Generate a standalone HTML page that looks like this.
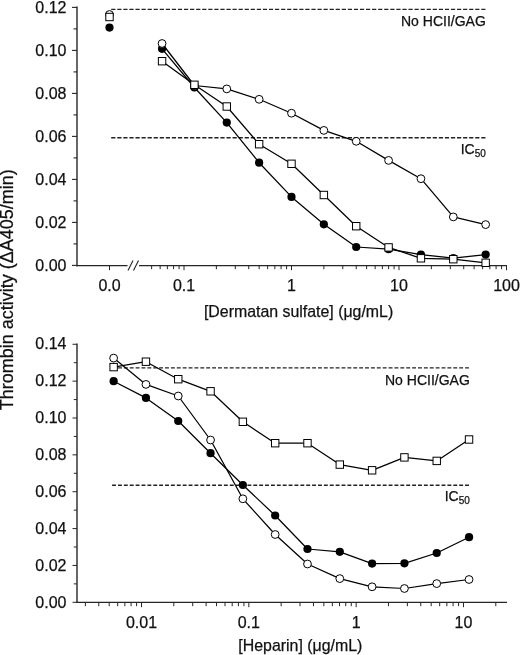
<!DOCTYPE html>
<html><head><meta charset="utf-8"><style>
html,body{margin:0;padding:0;background:#fff;}
svg{display:block;will-change:transform;}
text{font-family:"Liberation Sans",sans-serif;fill:#111;stroke:#111;stroke-width:0.25px;}
</style></head><body>
<svg width="520" height="655" viewBox="0 0 520 655">
<rect width="520" height="655" fill="#fff"/>
<line x1="77" y1="6.6" x2="77" y2="266.2" stroke="#262626" stroke-width="1.4"/>
<line x1="72" y1="265.40" x2="77" y2="265.40" stroke="#262626" stroke-width="1.1"/>
<text x="66.50" y="270.60" font-size="16" text-anchor="end" >0.00</text>
<line x1="73.5" y1="243.90" x2="77" y2="243.90" stroke="#262626" stroke-width="1.1"/>
<line x1="72" y1="222.40" x2="77" y2="222.40" stroke="#262626" stroke-width="1.1"/>
<text x="66.50" y="227.60" font-size="16" text-anchor="end" >0.02</text>
<line x1="73.5" y1="200.90" x2="77" y2="200.90" stroke="#262626" stroke-width="1.1"/>
<line x1="72" y1="179.40" x2="77" y2="179.40" stroke="#262626" stroke-width="1.1"/>
<text x="66.50" y="184.60" font-size="16" text-anchor="end" >0.04</text>
<line x1="73.5" y1="157.90" x2="77" y2="157.90" stroke="#262626" stroke-width="1.1"/>
<line x1="72" y1="136.40" x2="77" y2="136.40" stroke="#262626" stroke-width="1.1"/>
<text x="66.50" y="141.60" font-size="16" text-anchor="end" >0.06</text>
<line x1="73.5" y1="114.90" x2="77" y2="114.90" stroke="#262626" stroke-width="1.1"/>
<line x1="72" y1="93.40" x2="77" y2="93.40" stroke="#262626" stroke-width="1.1"/>
<text x="66.50" y="98.60" font-size="16" text-anchor="end" >0.08</text>
<line x1="73.5" y1="71.90" x2="77" y2="71.90" stroke="#262626" stroke-width="1.1"/>
<line x1="72" y1="50.40" x2="77" y2="50.40" stroke="#262626" stroke-width="1.1"/>
<text x="66.50" y="55.60" font-size="16" text-anchor="end" >0.10</text>
<line x1="73.5" y1="28.90" x2="77" y2="28.90" stroke="#262626" stroke-width="1.1"/>
<line x1="72" y1="7.40" x2="77" y2="7.40" stroke="#262626" stroke-width="1.1"/>
<text x="66.50" y="12.60" font-size="16" text-anchor="end" >0.12</text>
<line x1="76" y1="265.6" x2="127.5" y2="265.6" stroke="#262626" stroke-width="1.4"/>
<line x1="139" y1="265.6" x2="507" y2="265.6" stroke="#262626" stroke-width="1.4"/>
<line x1="128" y1="270.5" x2="133" y2="260.5" stroke="#262626" stroke-width="1.1"/>
<line x1="133.5" y1="270.5" x2="138.5" y2="260.5" stroke="#262626" stroke-width="1.1"/>
<line x1="109.5" y1="265.6" x2="109.5" y2="270.2" stroke="#262626" stroke-width="1"/>
<text x="109.50" y="290.80" font-size="16" text-anchor="middle" >0.0</text>
<line x1="151.64" y1="265.6" x2="151.64" y2="269.2" stroke="#262626" stroke-width="1"/>
<line x1="160.15" y1="265.6" x2="160.15" y2="269.2" stroke="#262626" stroke-width="1"/>
<line x1="167.35" y1="265.6" x2="167.35" y2="269.2" stroke="#262626" stroke-width="1"/>
<line x1="173.58" y1="265.6" x2="173.58" y2="269.2" stroke="#262626" stroke-width="1"/>
<line x1="179.08" y1="265.6" x2="179.08" y2="269.2" stroke="#262626" stroke-width="1"/>
<line x1="184.00" y1="265.6" x2="184.00" y2="270.2" stroke="#262626" stroke-width="1"/>
<line x1="216.36" y1="265.6" x2="216.36" y2="269.2" stroke="#262626" stroke-width="1"/>
<line x1="235.29" y1="265.6" x2="235.29" y2="269.2" stroke="#262626" stroke-width="1"/>
<line x1="248.72" y1="265.6" x2="248.72" y2="269.2" stroke="#262626" stroke-width="1"/>
<line x1="259.14" y1="265.6" x2="259.14" y2="269.2" stroke="#262626" stroke-width="1"/>
<line x1="267.65" y1="265.6" x2="267.65" y2="269.2" stroke="#262626" stroke-width="1"/>
<line x1="274.85" y1="265.6" x2="274.85" y2="269.2" stroke="#262626" stroke-width="1"/>
<line x1="281.08" y1="265.6" x2="281.08" y2="269.2" stroke="#262626" stroke-width="1"/>
<line x1="286.58" y1="265.6" x2="286.58" y2="269.2" stroke="#262626" stroke-width="1"/>
<line x1="291.50" y1="265.6" x2="291.50" y2="270.2" stroke="#262626" stroke-width="1"/>
<line x1="323.86" y1="265.6" x2="323.86" y2="269.2" stroke="#262626" stroke-width="1"/>
<line x1="342.79" y1="265.6" x2="342.79" y2="269.2" stroke="#262626" stroke-width="1"/>
<line x1="356.22" y1="265.6" x2="356.22" y2="269.2" stroke="#262626" stroke-width="1"/>
<line x1="366.64" y1="265.6" x2="366.64" y2="269.2" stroke="#262626" stroke-width="1"/>
<line x1="375.15" y1="265.6" x2="375.15" y2="269.2" stroke="#262626" stroke-width="1"/>
<line x1="382.35" y1="265.6" x2="382.35" y2="269.2" stroke="#262626" stroke-width="1"/>
<line x1="388.58" y1="265.6" x2="388.58" y2="269.2" stroke="#262626" stroke-width="1"/>
<line x1="394.08" y1="265.6" x2="394.08" y2="269.2" stroke="#262626" stroke-width="1"/>
<line x1="399.00" y1="265.6" x2="399.00" y2="270.2" stroke="#262626" stroke-width="1"/>
<line x1="431.36" y1="265.6" x2="431.36" y2="269.2" stroke="#262626" stroke-width="1"/>
<line x1="450.29" y1="265.6" x2="450.29" y2="269.2" stroke="#262626" stroke-width="1"/>
<line x1="463.72" y1="265.6" x2="463.72" y2="269.2" stroke="#262626" stroke-width="1"/>
<line x1="474.14" y1="265.6" x2="474.14" y2="269.2" stroke="#262626" stroke-width="1"/>
<line x1="482.65" y1="265.6" x2="482.65" y2="269.2" stroke="#262626" stroke-width="1"/>
<line x1="489.85" y1="265.6" x2="489.85" y2="269.2" stroke="#262626" stroke-width="1"/>
<line x1="496.08" y1="265.6" x2="496.08" y2="269.2" stroke="#262626" stroke-width="1"/>
<line x1="501.58" y1="265.6" x2="501.58" y2="269.2" stroke="#262626" stroke-width="1"/>
<line x1="506.50" y1="265.6" x2="506.50" y2="270.2" stroke="#262626" stroke-width="1"/>
<text x="184.00" y="290.80" font-size="16" text-anchor="middle" >0.1</text>
<text x="291.50" y="290.80" font-size="16" text-anchor="middle" >1</text>
<text x="399.00" y="290.80" font-size="16" text-anchor="middle" >10</text>
<text x="506.50" y="290.80" font-size="16" text-anchor="middle" >100</text>
<text x="298.60" y="316.80" font-size="15.9" text-anchor="middle" >[Dermatan sulfate] (&#956;g/mL)</text>
<line x1="111.2" y1="9.4" x2="485.4" y2="9.4" stroke="#222" stroke-width="1.4" stroke-dasharray="4.2,1.867"/>
<line x1="111.2" y1="137.8" x2="485.4" y2="137.8" stroke="#222" stroke-width="1.4" stroke-dasharray="4.2,1.867"/>
<text x="485.80" y="25.60" font-size="14" text-anchor="end" >No HCII/GAG</text>
<text x="485.8" y="154" font-size="14" text-anchor="end">IC<tspan font-size="10" dy="3">50</tspan></text>
<polyline points="162.06,48.80 194.42,87.50 226.78,122.60 259.14,162.70 291.50,196.90 323.86,224.30 356.22,247.00 388.58,249.20 420.94,254.60 453.30,258.20 485.66,254.60" fill="none" stroke="#000" stroke-width="1.25" stroke-linejoin="round"/>
<polyline points="162.06,43.50 194.42,85.50 226.78,88.90 259.14,99.30 291.50,113.20 323.86,130.40 356.22,141.30 388.58,160.40 420.94,178.70 453.30,216.90 485.66,224.60" fill="none" stroke="#000" stroke-width="1.25" stroke-linejoin="round"/>
<polyline points="162.06,61.20 194.42,84.80 226.78,106.50 259.14,144.20 291.50,163.80 323.86,195.00 356.22,226.20 388.58,247.40 420.94,258.30 453.30,259.20 485.66,262.80" fill="none" stroke="#000" stroke-width="1.25" stroke-linejoin="round"/>
<circle cx="109.50" cy="27.60" r="4.1" fill="#000"/>
<circle cx="162.06" cy="48.80" r="4.1" fill="#000"/>
<circle cx="194.42" cy="87.50" r="4.1" fill="#000"/>
<circle cx="226.78" cy="122.60" r="4.1" fill="#000"/>
<circle cx="259.14" cy="162.70" r="4.1" fill="#000"/>
<circle cx="291.50" cy="196.90" r="4.1" fill="#000"/>
<circle cx="323.86" cy="224.30" r="4.1" fill="#000"/>
<circle cx="356.22" cy="247.00" r="4.1" fill="#000"/>
<circle cx="388.58" cy="249.20" r="4.1" fill="#000"/>
<circle cx="420.94" cy="254.60" r="4.1" fill="#000"/>
<circle cx="453.30" cy="258.20" r="4.1" fill="#000"/>
<circle cx="485.66" cy="254.60" r="4.1" fill="#000"/>
<circle cx="109.50" cy="14.50" r="3.9" fill="#fff" stroke="#000" stroke-width="1.0"/>
<circle cx="162.06" cy="43.50" r="3.9" fill="#fff" stroke="#000" stroke-width="1.0"/>
<circle cx="194.42" cy="85.50" r="3.9" fill="#fff" stroke="#000" stroke-width="1.0"/>
<circle cx="226.78" cy="88.90" r="3.9" fill="#fff" stroke="#000" stroke-width="1.0"/>
<circle cx="259.14" cy="99.30" r="3.9" fill="#fff" stroke="#000" stroke-width="1.0"/>
<circle cx="291.50" cy="113.20" r="3.9" fill="#fff" stroke="#000" stroke-width="1.0"/>
<circle cx="323.86" cy="130.40" r="3.9" fill="#fff" stroke="#000" stroke-width="1.0"/>
<circle cx="356.22" cy="141.30" r="3.9" fill="#fff" stroke="#000" stroke-width="1.0"/>
<circle cx="388.58" cy="160.40" r="3.9" fill="#fff" stroke="#000" stroke-width="1.0"/>
<circle cx="420.94" cy="178.70" r="3.9" fill="#fff" stroke="#000" stroke-width="1.0"/>
<circle cx="453.30" cy="216.90" r="3.9" fill="#fff" stroke="#000" stroke-width="1.0"/>
<circle cx="485.66" cy="224.60" r="3.9" fill="#fff" stroke="#000" stroke-width="1.0"/>
<rect x="105.80" y="13.30" width="7.4" height="7.4" fill="#fff" stroke="#000" stroke-width="1.0"/>
<rect x="158.36" y="57.50" width="7.4" height="7.4" fill="#fff" stroke="#000" stroke-width="1.0"/>
<rect x="190.72" y="81.10" width="7.4" height="7.4" fill="#fff" stroke="#000" stroke-width="1.0"/>
<rect x="223.08" y="102.80" width="7.4" height="7.4" fill="#fff" stroke="#000" stroke-width="1.0"/>
<rect x="255.44" y="140.50" width="7.4" height="7.4" fill="#fff" stroke="#000" stroke-width="1.0"/>
<rect x="287.80" y="160.10" width="7.4" height="7.4" fill="#fff" stroke="#000" stroke-width="1.0"/>
<rect x="320.16" y="191.30" width="7.4" height="7.4" fill="#fff" stroke="#000" stroke-width="1.0"/>
<rect x="352.52" y="222.50" width="7.4" height="7.4" fill="#fff" stroke="#000" stroke-width="1.0"/>
<rect x="384.88" y="243.70" width="7.4" height="7.4" fill="#fff" stroke="#000" stroke-width="1.0"/>
<rect x="417.24" y="254.60" width="7.4" height="7.4" fill="#fff" stroke="#000" stroke-width="1.0"/>
<rect x="449.60" y="255.50" width="7.4" height="7.4" fill="#fff" stroke="#000" stroke-width="1.0"/>
<rect x="481.96" y="259.10" width="7.4" height="7.4" fill="#fff" stroke="#000" stroke-width="1.0"/>
<line x1="77" y1="343.5" x2="77" y2="603" stroke="#262626" stroke-width="1.4"/>
<line x1="72.5" y1="602.30" x2="77" y2="602.30" stroke="#262626" stroke-width="1"/>
<text x="66.50" y="607.50" font-size="16" text-anchor="end" >0.00</text>
<line x1="73.8" y1="583.87" x2="77" y2="583.87" stroke="#262626" stroke-width="1"/>
<line x1="72.5" y1="565.44" x2="77" y2="565.44" stroke="#262626" stroke-width="1"/>
<text x="66.50" y="570.64" font-size="16" text-anchor="end" >0.02</text>
<line x1="73.8" y1="547.01" x2="77" y2="547.01" stroke="#262626" stroke-width="1"/>
<line x1="72.5" y1="528.58" x2="77" y2="528.58" stroke="#262626" stroke-width="1"/>
<text x="66.50" y="533.78" font-size="16" text-anchor="end" >0.04</text>
<line x1="73.8" y1="510.15" x2="77" y2="510.15" stroke="#262626" stroke-width="1"/>
<line x1="72.5" y1="491.72" x2="77" y2="491.72" stroke="#262626" stroke-width="1"/>
<text x="66.50" y="496.92" font-size="16" text-anchor="end" >0.06</text>
<line x1="73.8" y1="473.29" x2="77" y2="473.29" stroke="#262626" stroke-width="1"/>
<line x1="72.5" y1="454.86" x2="77" y2="454.86" stroke="#262626" stroke-width="1"/>
<text x="66.50" y="460.06" font-size="16" text-anchor="end" >0.08</text>
<line x1="73.8" y1="436.43" x2="77" y2="436.43" stroke="#262626" stroke-width="1"/>
<line x1="72.5" y1="418.00" x2="77" y2="418.00" stroke="#262626" stroke-width="1"/>
<text x="66.50" y="423.20" font-size="16" text-anchor="end" >0.10</text>
<line x1="73.8" y1="399.57" x2="77" y2="399.57" stroke="#262626" stroke-width="1"/>
<line x1="72.5" y1="381.14" x2="77" y2="381.14" stroke="#262626" stroke-width="1"/>
<text x="66.50" y="386.34" font-size="16" text-anchor="end" >0.12</text>
<line x1="73.8" y1="362.71" x2="77" y2="362.71" stroke="#262626" stroke-width="1"/>
<line x1="72.5" y1="344.28" x2="77" y2="344.28" stroke="#262626" stroke-width="1"/>
<text x="66.50" y="349.48" font-size="16" text-anchor="end" >0.14</text>
<line x1="76.4" y1="602.4" x2="507" y2="602.4" stroke="#262626" stroke-width="1.4"/>
<line x1="85.38" y1="602.4" x2="85.38" y2="606.2" stroke="#262626" stroke-width="1"/>
<line x1="98.79" y1="602.4" x2="98.79" y2="606.2" stroke="#262626" stroke-width="1"/>
<line x1="109.19" y1="602.4" x2="109.19" y2="606.2" stroke="#262626" stroke-width="1"/>
<line x1="117.69" y1="602.4" x2="117.69" y2="606.2" stroke="#262626" stroke-width="1"/>
<line x1="124.87" y1="602.4" x2="124.87" y2="606.2" stroke="#262626" stroke-width="1"/>
<line x1="131.10" y1="602.4" x2="131.10" y2="606.2" stroke="#262626" stroke-width="1"/>
<line x1="136.59" y1="602.4" x2="136.59" y2="606.2" stroke="#262626" stroke-width="1"/>
<line x1="141.50" y1="602.4" x2="141.50" y2="607.2" stroke="#262626" stroke-width="1"/>
<line x1="173.81" y1="602.4" x2="173.81" y2="606.2" stroke="#262626" stroke-width="1"/>
<line x1="192.71" y1="602.4" x2="192.71" y2="606.2" stroke="#262626" stroke-width="1"/>
<line x1="206.12" y1="602.4" x2="206.12" y2="606.2" stroke="#262626" stroke-width="1"/>
<line x1="216.52" y1="602.4" x2="216.52" y2="606.2" stroke="#262626" stroke-width="1"/>
<line x1="225.02" y1="602.4" x2="225.02" y2="606.2" stroke="#262626" stroke-width="1"/>
<line x1="232.20" y1="602.4" x2="232.20" y2="606.2" stroke="#262626" stroke-width="1"/>
<line x1="238.43" y1="602.4" x2="238.43" y2="606.2" stroke="#262626" stroke-width="1"/>
<line x1="243.92" y1="602.4" x2="243.92" y2="606.2" stroke="#262626" stroke-width="1"/>
<line x1="248.83" y1="602.4" x2="248.83" y2="607.2" stroke="#262626" stroke-width="1"/>
<line x1="281.14" y1="602.4" x2="281.14" y2="606.2" stroke="#262626" stroke-width="1"/>
<line x1="300.04" y1="602.4" x2="300.04" y2="606.2" stroke="#262626" stroke-width="1"/>
<line x1="313.45" y1="602.4" x2="313.45" y2="606.2" stroke="#262626" stroke-width="1"/>
<line x1="323.85" y1="602.4" x2="323.85" y2="606.2" stroke="#262626" stroke-width="1"/>
<line x1="332.35" y1="602.4" x2="332.35" y2="606.2" stroke="#262626" stroke-width="1"/>
<line x1="339.53" y1="602.4" x2="339.53" y2="606.2" stroke="#262626" stroke-width="1"/>
<line x1="345.76" y1="602.4" x2="345.76" y2="606.2" stroke="#262626" stroke-width="1"/>
<line x1="351.25" y1="602.4" x2="351.25" y2="606.2" stroke="#262626" stroke-width="1"/>
<line x1="356.16" y1="602.4" x2="356.16" y2="607.2" stroke="#262626" stroke-width="1"/>
<line x1="388.47" y1="602.4" x2="388.47" y2="606.2" stroke="#262626" stroke-width="1"/>
<line x1="407.37" y1="602.4" x2="407.37" y2="606.2" stroke="#262626" stroke-width="1"/>
<line x1="420.78" y1="602.4" x2="420.78" y2="606.2" stroke="#262626" stroke-width="1"/>
<line x1="431.18" y1="602.4" x2="431.18" y2="606.2" stroke="#262626" stroke-width="1"/>
<line x1="439.68" y1="602.4" x2="439.68" y2="606.2" stroke="#262626" stroke-width="1"/>
<line x1="446.86" y1="602.4" x2="446.86" y2="606.2" stroke="#262626" stroke-width="1"/>
<line x1="453.09" y1="602.4" x2="453.09" y2="606.2" stroke="#262626" stroke-width="1"/>
<line x1="458.58" y1="602.4" x2="458.58" y2="606.2" stroke="#262626" stroke-width="1"/>
<line x1="463.49" y1="602.4" x2="463.49" y2="607.2" stroke="#262626" stroke-width="1"/>
<line x1="495.80" y1="602.4" x2="495.80" y2="606.2" stroke="#262626" stroke-width="1"/>
<text x="141.50" y="628.20" font-size="16" text-anchor="middle" >0.01</text>
<text x="248.83" y="628.20" font-size="16" text-anchor="middle" >0.1</text>
<text x="356.16" y="628.20" font-size="16" text-anchor="middle" >1</text>
<text x="463.49" y="628.20" font-size="16" text-anchor="middle" >10</text>
<text x="300.30" y="650.80" font-size="15.9" text-anchor="middle" >[Heparin] (&#956;g/mL)</text>
<line x1="112.1" y1="367.9" x2="469.1" y2="367.9" stroke="#222" stroke-width="1.4" stroke-dasharray="3.9,1.983"/>
<line x1="112.1" y1="485.3" x2="469.1" y2="485.3" stroke="#222" stroke-width="1.4" stroke-dasharray="3.9,1.983"/>
<text x="469.80" y="384.70" font-size="14" text-anchor="end" >No HCII/GAG</text>
<text x="469.8" y="501.4" font-size="14" text-anchor="end">IC<tspan font-size="10" dy="3">50</tspan></text>
<polyline points="113.63,381.20 145.94,397.90 178.25,421.00 210.56,453.20 242.87,485.00 275.18,515.50 307.49,549.00 339.80,551.80 372.11,563.60 404.42,563.30 436.73,553.00 469.04,537.20" fill="none" stroke="#000" stroke-width="1.25" stroke-linejoin="round"/>
<polyline points="113.63,358.10 145.94,384.40 178.25,396.00 210.56,440.00 242.87,498.80 275.18,534.50 307.49,564.00 339.80,578.60 372.11,586.80 404.42,588.50 436.73,583.60 469.04,579.50" fill="none" stroke="#000" stroke-width="1.25" stroke-linejoin="round"/>
<polyline points="113.63,367.10 145.94,361.70 178.25,379.20 210.56,391.30 242.87,421.80 275.18,443.20 307.49,443.20 339.80,464.60 372.11,470.30 404.42,457.40 436.73,460.90 469.04,439.50" fill="none" stroke="#000" stroke-width="1.25" stroke-linejoin="round"/>
<circle cx="113.63" cy="381.20" r="4.1" fill="#000"/>
<circle cx="145.94" cy="397.90" r="4.1" fill="#000"/>
<circle cx="178.25" cy="421.00" r="4.1" fill="#000"/>
<circle cx="210.56" cy="453.20" r="4.1" fill="#000"/>
<circle cx="242.87" cy="485.00" r="4.1" fill="#000"/>
<circle cx="275.18" cy="515.50" r="4.1" fill="#000"/>
<circle cx="307.49" cy="549.00" r="4.1" fill="#000"/>
<circle cx="339.80" cy="551.80" r="4.1" fill="#000"/>
<circle cx="372.11" cy="563.60" r="4.1" fill="#000"/>
<circle cx="404.42" cy="563.30" r="4.1" fill="#000"/>
<circle cx="436.73" cy="553.00" r="4.1" fill="#000"/>
<circle cx="469.04" cy="537.20" r="4.1" fill="#000"/>
<circle cx="113.63" cy="358.10" r="3.9" fill="#fff" stroke="#000" stroke-width="1.0"/>
<circle cx="145.94" cy="384.40" r="3.9" fill="#fff" stroke="#000" stroke-width="1.0"/>
<circle cx="178.25" cy="396.00" r="3.9" fill="#fff" stroke="#000" stroke-width="1.0"/>
<circle cx="210.56" cy="440.00" r="3.9" fill="#fff" stroke="#000" stroke-width="1.0"/>
<circle cx="242.87" cy="498.80" r="3.9" fill="#fff" stroke="#000" stroke-width="1.0"/>
<circle cx="275.18" cy="534.50" r="3.9" fill="#fff" stroke="#000" stroke-width="1.0"/>
<circle cx="307.49" cy="564.00" r="3.9" fill="#fff" stroke="#000" stroke-width="1.0"/>
<circle cx="339.80" cy="578.60" r="3.9" fill="#fff" stroke="#000" stroke-width="1.0"/>
<circle cx="372.11" cy="586.80" r="3.9" fill="#fff" stroke="#000" stroke-width="1.0"/>
<circle cx="404.42" cy="588.50" r="3.9" fill="#fff" stroke="#000" stroke-width="1.0"/>
<circle cx="436.73" cy="583.60" r="3.9" fill="#fff" stroke="#000" stroke-width="1.0"/>
<circle cx="469.04" cy="579.50" r="3.9" fill="#fff" stroke="#000" stroke-width="1.0"/>
<rect x="109.93" y="363.40" width="7.4" height="7.4" fill="#fff" stroke="#000" stroke-width="1.0"/>
<rect x="142.24" y="358.00" width="7.4" height="7.4" fill="#fff" stroke="#000" stroke-width="1.0"/>
<rect x="174.55" y="375.50" width="7.4" height="7.4" fill="#fff" stroke="#000" stroke-width="1.0"/>
<rect x="206.86" y="387.60" width="7.4" height="7.4" fill="#fff" stroke="#000" stroke-width="1.0"/>
<rect x="239.17" y="418.10" width="7.4" height="7.4" fill="#fff" stroke="#000" stroke-width="1.0"/>
<rect x="271.48" y="439.50" width="7.4" height="7.4" fill="#fff" stroke="#000" stroke-width="1.0"/>
<rect x="303.79" y="439.50" width="7.4" height="7.4" fill="#fff" stroke="#000" stroke-width="1.0"/>
<rect x="336.10" y="460.90" width="7.4" height="7.4" fill="#fff" stroke="#000" stroke-width="1.0"/>
<rect x="368.41" y="466.60" width="7.4" height="7.4" fill="#fff" stroke="#000" stroke-width="1.0"/>
<rect x="400.72" y="453.70" width="7.4" height="7.4" fill="#fff" stroke="#000" stroke-width="1.0"/>
<rect x="433.03" y="457.20" width="7.4" height="7.4" fill="#fff" stroke="#000" stroke-width="1.0"/>
<rect x="465.34" y="435.80" width="7.4" height="7.4" fill="#fff" stroke="#000" stroke-width="1.0"/>
<text x="0" y="0" font-size="18" text-anchor="middle" transform="translate(13,289.8) rotate(-90)">Thrombin activity (&#916;A405/min)</text>
</svg>
</body></html>
